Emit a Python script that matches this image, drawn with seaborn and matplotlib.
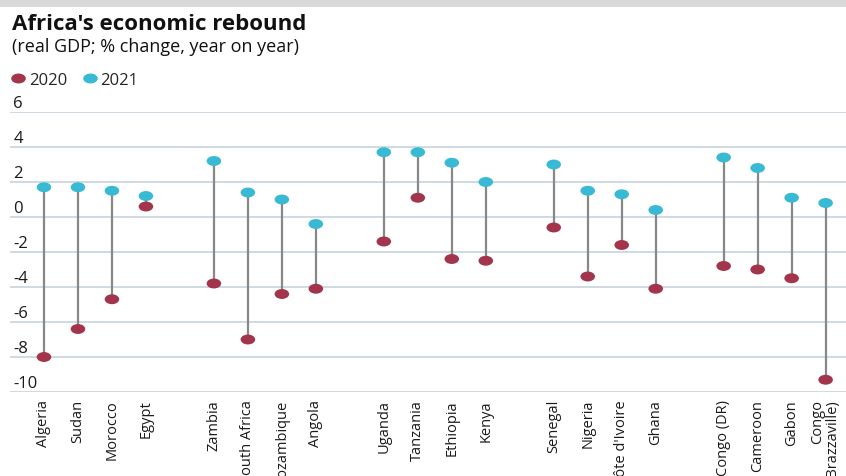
import matplotlib
matplotlib.use("Agg")
import numpy as np
import pandas as pd
import matplotlib.pyplot as plt
import seaborn as sns
from matplotlib.path import Path
from matplotlib.patches import Rectangle
from matplotlib.transforms import Affine2D, ScaledTranslation

# ---- data ----
countries = ["Algeria", "Sudan", "Morocco", "Egypt",
             "Zambia", "South Africa", "Mozambique", "Angola",
             "Uganda", "Tanzania", "Ethiopia", "Kenya",
             "Senegal", "Nigeria", "Côte d'Ivoire", "Ghana",
             "Congo (DR)", "Cameroon", "Gabon", "Congo\n(Brazzaville)"]
gdp_2020 = [-8.0, -6.4, -4.7, 0.6,
            -3.8, -7.0, -4.4, -4.1,
            -1.4, 1.1, -2.4, -2.5,
            -0.6, -3.4, -1.6, -4.1,
            -2.8, -3.0, -3.5, -9.3]
gdp_2021 = [1.7, 1.7, 1.5, 1.2,
            3.2, 1.4, 1.0, -0.4,
            3.7, 3.7, 3.1, 2.0,
            3.0, 1.5, 1.3, 0.4,
            3.4, 2.8, 1.1, 0.8]
years = ["2020", "2021"]
y_ticks = [-10, -8, -6, -4, -2, 0, 2, 4, 6]

# ---- style ----
c2020 = "#a2344b"
c2021 = "#38b9d4"
grid_c = "#cfd9e2"
stem_c = "#888888"

sns.set_theme(style="white")
plt.rcParams["font.family"] = ["Open Sans", "DejaVu Sans"]
plt.rcParams["axes.unicode_minus"] = False

fig = plt.figure(figsize=(8.46, 4.77), dpi=100)
fig.add_artist(Rectangle((0, 1 - 8 / 477), 1, 8 / 477, transform=fig.transFigure,
                         color="#d9d9d9", lw=0))
ax = fig.add_axes([10 / 846, 1 - 393 / 477, 836 / 846, 280 / 477])

# positions: groups of 4 with a gap slot between groups
n = len(countries)
pos = np.array([i + i // 4 for i in range(n)], dtype=float)

df = pd.DataFrame({
    "pos": np.concatenate([pos, pos]),
    "value": gdp_2020 + gdp_2021,
    "year": [years[0]] * n + [years[1]] * n,
})

ellipse = Path.unit_circle().transformed(Affine2D().scale(1, 0.68))

ax.vlines(pos, gdp_2020, gdp_2021, color=stem_c, lw=1.6, zorder=2)
sns.scatterplot(data=df, x="pos", y="value", hue="year",
                palette={"2020": c2020, "2021": c2021},
                marker=ellipse, s=110, linewidth=0, ax=ax, zorder=3)

ax.set_xlim(-1, 23.6)
ax.set_ylim(-10, 6)
ax.set_xlabel("")
ax.set_ylabel("")
for s in ax.spines.values():
    s.set_visible(False)

ax.set_yticks(y_ticks)
ax.set_yticklabels([str(v) for v in y_ticks])
ax.yaxis.grid(True, color=grid_c, lw=1.4, zorder=0)
ax.xaxis.grid(False)
ax.set_axisbelow(True)
ax.tick_params(axis="y", length=0, pad=-2.5, labelsize=12, labelcolor="#1a1a1a")
for lab in ax.get_yticklabels():
    lab.set_ha("left")
    lab.set_va("bottom")
    lab.set_transform(lab.get_transform() + ScaledTranslation(0, 1.0 / 72, fig.dpi_scale_trans))

ax.set_xticks(pos)
ax.set_xticklabels(countries, rotation=90, va="top", ha="center",
                   multialignment="right", fontsize=10.5, color="#1a1a1a",
                   linespacing=1.0)
ax.tick_params(axis="x", length=0, pad=5)

# legend
sns.move_legend(ax, loc="center left", bbox_to_anchor=(9 / 846, 1 - 81 / 477),
                bbox_transform=fig.transFigure, ncol=2, frameon=False, title=None,
                fontsize=12, handletextpad=0.1, columnspacing=0.8, handlelength=1.1,
                borderpad=0, borderaxespad=0)

fig.text(12 / 846, 1 - 30 / 477, "Africa's economic rebound", fontsize=16,
         fontweight="bold", va="baseline", color="#111111")
fig.text(12 / 846, 1 - 52 / 477, "(real GDP; % change, year on year)", fontsize=13,
         va="baseline", color="#111111")

fig.savefig("out.png", dpi=100)
